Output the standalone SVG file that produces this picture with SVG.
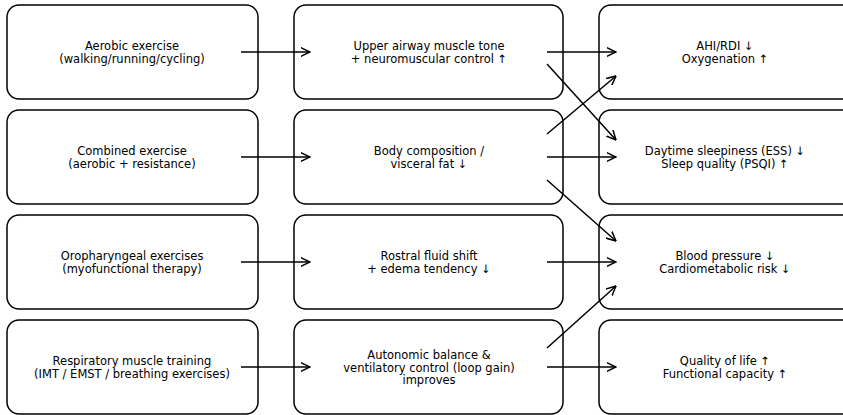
<svg xmlns="http://www.w3.org/2000/svg" width="843" height="415" viewBox="0 0 843 415">
<defs>
<marker id="ah" viewBox="0 0 10 10" refX="9.5" refY="5" markerWidth="10" markerHeight="10" markerUnits="userSpaceOnUse" orient="auto">
<path d="M0,0.5 L9.5,5 L0,9.5" fill="none" stroke="#000" stroke-width="1.5"/>
</marker>
</defs>
<style>
.box{fill:#fff;stroke:#000;stroke-width:1.5}
text{font-family:"DejaVu Sans",sans-serif;font-size:11.5px;fill:#000;text-anchor:middle}
.c line{stroke:#000;stroke-width:1.5;marker-end:url(#ah)}
</style>
<g id="n1"><rect class="box" x="7" y="5" width="251" height="94" rx="12"/><text x="132" y="50">Aerobic exercise</text><text x="132" y="62.5">(walking/running/cycling)</text></g>
<g id="n2"><rect class="box" x="7" y="110" width="251" height="94" rx="12"/><text x="132" y="155">Combined exercise</text><text x="132" y="167.5">(aerobic + resistance)</text></g>
<g id="n3"><rect class="box" x="7" y="215" width="251" height="94" rx="12"/><text x="132" y="260">Oropharyngeal exercises</text><text x="132" y="272.5">(myofunctional therapy)</text></g>
<g id="n4"><rect class="box" x="7" y="320" width="251" height="94" rx="12"/><text x="132" y="365">Respiratory muscle training</text><text x="132" y="377.5">(IMT / EMST / breathing exercises)</text></g>
<g id="m1"><rect class="box" x="294" y="5" width="269" height="94" rx="12"/><text x="429" y="50">Upper airway muscle tone</text><text x="429" y="62.5">+ neuromuscular control ↑</text></g>
<g id="m2"><rect class="box" x="294" y="110" width="269" height="94" rx="12"/><text x="429" y="155">Body composition /</text><text x="429" y="167.5">visceral fat ↓</text></g>
<g id="m3"><rect class="box" x="294" y="215" width="269" height="94" rx="12"/><text x="429" y="260">Rostral fluid shift</text><text x="429" y="272.5">+ edema tendency ↓</text></g>
<g id="m4"><rect class="box" x="294" y="320" width="269" height="94" rx="12"/><text x="429" y="359">Autonomic balance &amp;</text><text x="429" y="371.5">ventilatory control (loop gain)</text><text x="429" y="384">improves</text></g>
<g id="o1"><rect class="box" x="599" y="5" width="260" height="94" rx="12"/><text x="725" y="50">AHI/RDI ↓</text><text x="725" y="62.5">Oxygenation ↑</text></g>
<g id="o2"><rect class="box" x="599" y="110" width="260" height="94" rx="12"/><text x="725" y="155">Daytime sleepiness (ESS) ↓</text><text x="725" y="167.5">Sleep quality (PSQI) ↑</text></g>
<g id="o3"><rect class="box" x="599" y="215" width="260" height="94" rx="12"/><text x="725" y="260">Blood pressure ↓</text><text x="725" y="272.5">Cardiometabolic risk ↓</text></g>
<g id="o4"><rect class="box" x="599" y="320" width="260" height="94" rx="12"/><text x="725" y="365">Quality of life ↑</text><text x="725" y="377.5">Functional capacity ↑</text></g>
<g id="connectors" class="c">
<line x1="241" y1="52" x2="310" y2="52"/>
<line x1="241" y1="157" x2="310" y2="157"/>
<line x1="241" y1="262" x2="310" y2="262"/>
<line x1="241" y1="367" x2="310" y2="367"/>
<line x1="547" y1="52" x2="616" y2="52"/>
<line x1="547" y1="157" x2="616" y2="157"/>
<line x1="547" y1="262" x2="616" y2="262"/>
<line x1="547" y1="367" x2="616" y2="367"/>
<line x1="547" y1="64" x2="616" y2="140"/>
<line x1="547" y1="134" x2="616" y2="76"/>
<line x1="547" y1="180" x2="616" y2="241"/>
<line x1="547" y1="348" x2="616" y2="286"/>
</g>
</svg>
